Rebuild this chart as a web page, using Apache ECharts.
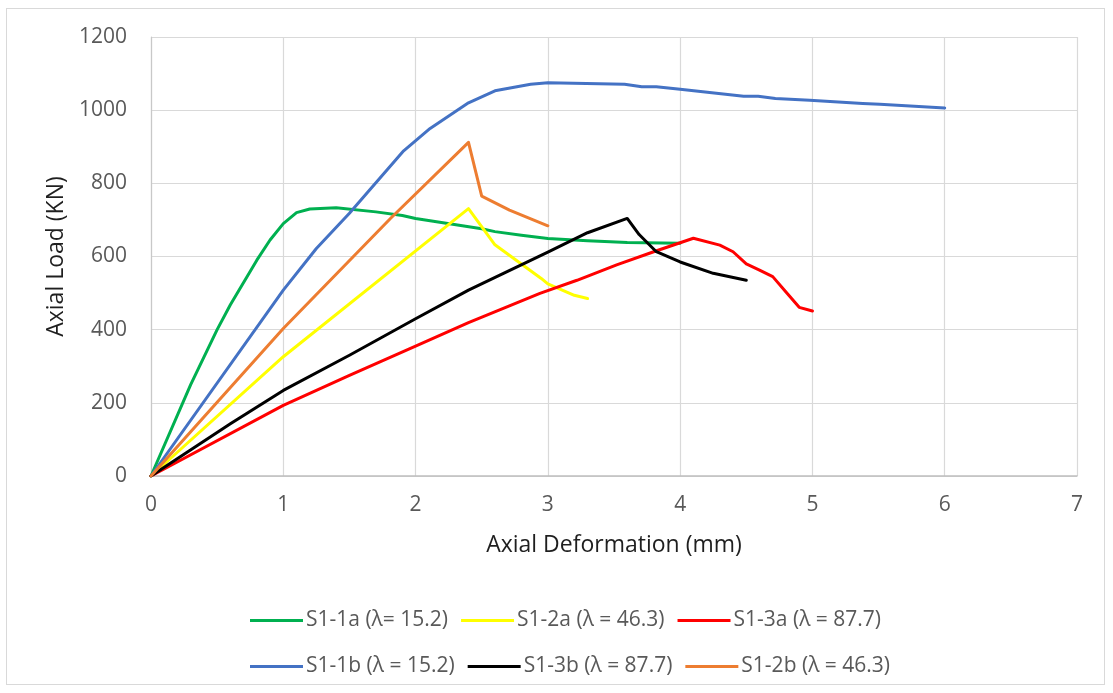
<!DOCTYPE html>
<html>
<head>
<meta charset="utf-8">
<script src="https://cdn.jsdelivr.net/npm/echarts@6/dist/echarts.min.js"></script>
<style>
  html, body { margin: 0; padding: 0; background: #ffffff; }
  #frame { position: absolute; left: 6px; top: 8px; width: 1099px; height: 677px; border: 1px solid #d9d9d9; box-sizing: border-box; }
  #chart { position: absolute; left: 0; top: 0; width: 1113px; height: 693px; }
</style>
</head>
<body>
<div id="frame"></div>
<div id="chart"></div>
<script>
// Load–deformation curves, [deformation (mm), load (kN)]
const s1_1a = [[0,0],[0.3,250],[0.5,400],[0.6,468],[0.8,590],[0.9,645],[1.0,690],[1.1,720],[1.2,730],[1.4,733],[1.7,722],[1.9,712],[2.0,704],[2.5,676],[2.6,668],[2.8,658],[3.0,649],[3.3,643],[3.6,638],[4.0,636]];
const s1_2a = [[0,0],[1.0,326],[2.4,731],[2.6,632],[2.95,540],[3.0,525],[3.2,494],[3.3,485]];
const s1_3a = [[0,0],[1.0,193],[1.5,275],[2.0,355],[2.4,419],[2.94,499],[3.22,535],[3.52,577],[3.8,613],[4.1,650],[4.3,631],[4.4,613],[4.5,580],[4.6,563],[4.7,545],[4.8,503],[4.9,461],[5.0,451]];
const s1_1b = [[0,0],[1.0,508],[1.25,622],[1.5,718],[1.91,889],[2.11,950],[2.4,1020],[2.6,1053],[2.87,1071],[3.0,1075],[3.58,1071],[3.71,1064],[3.82,1064],[4.0,1057],[4.48,1038],[4.59,1038],[4.72,1032],[4.98,1027],[5.38,1018],[5.51,1016],[6.0,1006]];
const s1_3b = [[0,0],[0.6,143],[1.0,234],[1.5,330],[2.0,430],[2.4,508],[3.0,612],[3.3,665],[3.6,704],[3.69,660],[3.82,613],[4.0,585],[4.25,554],[4.5,535]];
const s1_2b = [[0,0],[1.0,403],[1.81,704],[2.4,912],[2.5,765],[2.71,727],[3.0,684]];

const seriesNames = ['S1-1a (λ= 15.2)', 'S1-2a (λ = 46.3)', 'S1-3a (λ = 87.7)', 'S1-1b (λ = 15.2)', 'S1-3b (λ = 87.7)', 'S1-2b (λ = 46.3)'];
const seriesData = [s1_1a, s1_2a, s1_3a, s1_1b, s1_3b, s1_2b];
const seriesColors = ['#00B050', '#FFFF00', '#FF0000', '#4472C4', '#000000', '#ED7D31'];

const xTicks = { min: 0, max: 7, interval: 1 };
const yTicks = { min: 0, max: 1200, interval: 200 };

const font = '"Open Sans", "Noto Sans", sans-serif';
const chart = echarts.init(document.getElementById('chart'), null, { renderer: 'canvas' });

const legendCommon = {
  left: 245,
  itemWidth: 53,
  itemHeight: 3,
  itemGap: 13,
  icon: 'rect',
  textStyle: { color: '#595959', fontSize: 21, fontFamily: font, padding: [0, 0, 0, -2] }
};

chart.setOption({
  animation: false,
  backgroundColor: 'transparent',
  grid: { left: 151, top: 37, width: 926, height: 439, containLabel: false },
  legend: [
    Object.assign({ top: 605, data: seriesNames.slice(0, 3) }, legendCommon),
    Object.assign({ top: 651, data: seriesNames.slice(3, 6) }, legendCommon)
  ],
  xAxis: {
    type: 'value',
    min: xTicks.min, max: xTicks.max, interval: xTicks.interval,
    name: 'Axial Deformation (mm)',
    nameLocation: 'middle',
    nameGap: 58,
    nameTextStyle: { color: '#1f1f1f', fontSize: 23, fontFamily: font },
    axisLine: { show: true, lineStyle: { color: '#BFBFBF', width: 1.5 } },
    axisTick: { show: false },
    axisLabel: { color: '#595959', fontSize: 21, fontFamily: font, margin: 19 },
    splitLine: { show: true, lineStyle: { color: '#D9D9D9', width: 1.2 } }
  },
  yAxis: {
    type: 'value',
    min: yTicks.min, max: yTicks.max, interval: yTicks.interval,
    name: 'Axial Load (KN)',
    nameLocation: 'middle',
    nameGap: 83,
    nameRotate: 90,
    nameTextStyle: { color: '#1f1f1f', fontSize: 23, fontFamily: font },
    axisLine: { show: true, lineStyle: { color: '#C8C8C8', width: 1.2 } },
    axisTick: { show: false },
    axisLabel: { color: '#595959', fontSize: 21, fontFamily: font, margin: 24, formatter: v => String(v) },
    splitLine: { show: true, lineStyle: { color: '#D9D9D9', width: 1.2 } }
  },
  series: seriesNames.map((name, i) => ({
    name: name,
    type: 'line',
    data: seriesData[i],
    showSymbol: false,
    symbol: 'none',
    smooth: false,
    lineStyle: { color: seriesColors[i], width: 3, cap: 'round', join: 'round' },
    itemStyle: { color: seriesColors[i] },
    z: 2 + i
  }))
});
</script>
</body>
</html>
